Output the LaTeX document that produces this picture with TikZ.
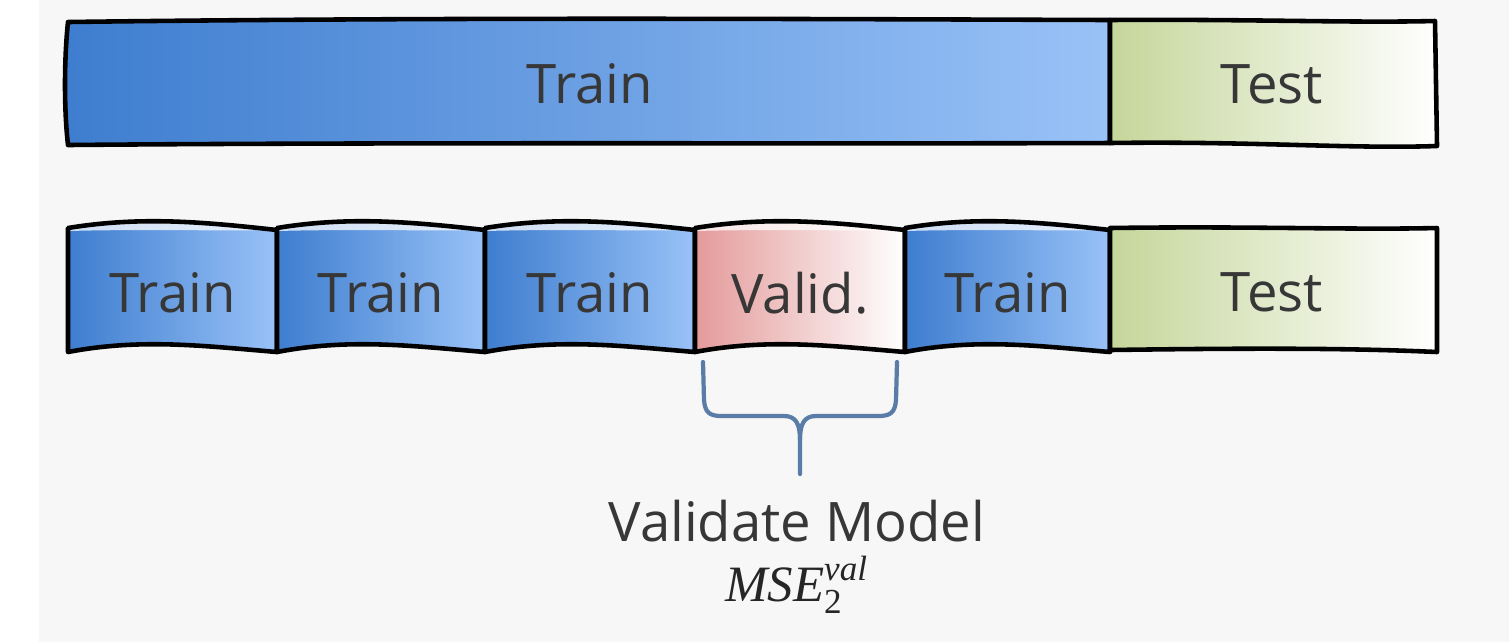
\documentclass[tikz,border=0pt]{standalone}
\usepackage{fontspec}
\setmainfont{Open Sans}
\newfontfamily\serifit{Liberation Serif}
\usetikzlibrary{calc}
\definecolor{bgGray}{RGB}{247,247,247}
\definecolor{trainDark}{RGB}{62,125,207}
\definecolor{trainLight}{RGB}{153,194,247}
\definecolor{testGreen}{RGB}{197,214,154}
\definecolor{validPink}{RGB}{228,154,154}
\definecolor{inkText}{RGB}{55,55,55}
\definecolor{braceBlue}{RGB}{90,125,168}
\tikzset{
    fold/.style 2 args={left color=#1, right color=#2},
    edge/.style={draw=black, line width=1.3pt, line join=round},
    gloss/.style={fill=white, opacity=0.75},
    lbl/.style={text=inkText, font=\fontsize{15.5}{18}\selectfont, inner sep=0pt},
    formula/.style={text=black!85, font=\fontsize{14.5}{17}\selectfont\serifit, inner sep=0pt}
}
\tikzset{brace/.style={draw=braceBlue, line width=1.2pt, line cap=round}}
\begin{document}
\begin{tikzpicture}[x=0.1mm, y=-0.1mm]
    \useasboundingbox (0,0) rectangle (1509,642);
    \fill[white] (0,0) rectangle (1509,642);
    \fill[bgGray] (39,0) rectangle (1509,642);
    % whole data: train / test
    \path[fold={trainDark}{trainLight}, edge] (68,22) .. controls (450,17) and (800,19) .. (1110,20) -- (1110,143) .. controls (800,144) and (400,142) .. (68,145) .. controls (64,110) and (64,60) .. cycle;
    \path[fold={testGreen}{white}, edge] (1110,20) .. controls (1250,19) and (1350,23) .. (1435,21) -- (1437,146) .. controls (1350,149) and (1250,141) .. (1110,143) -- cycle;
    \node[lbl] (train) at (590,84) {Train};
    \node[lbl] (test) at (1272,84) {Test};
    % k folds
    \foreach \nm/\lab/\xl/\xr/\ca/\cb in {fa/Train/68/277/trainDark/trainLight, fb/Train/277/485/trainDark/trainLight, fc/Train/485/695/trainDark/trainLight, fv/Valid./695/905/validPink/white, fd/Train/905/1110/trainDark/trainLight} {
        \path[fold={\ca}{\cb}] (\xl,228) .. controls ({\xl+0.35*(\xr-\xl)},216) and ({\xl+0.65*(\xr-\xl)},222) .. (\xr,230) -- (\xr,352) .. controls ({\xl+0.65*(\xr-\xl)},346) and ({\xl+0.35*(\xr-\xl)},338) .. (\xl,352) -- cycle;
        \fill[gloss] (\xl,228) .. controls ({\xl+0.35*(\xr-\xl)},216) and ({\xl+0.65*(\xr-\xl)},222) .. (\xr,230) .. controls ({\xl+0.65*(\xr-\xl)},231) and ({\xl+0.35*(\xr-\xl)},229) .. (\xl,231) -- cycle;
        \draw[edge] (\xl,228) .. controls ({\xl+0.35*(\xr-\xl)},216) and ({\xl+0.65*(\xr-\xl)},222) .. (\xr,230) -- (\xr,352) .. controls ({\xl+0.65*(\xr-\xl)},346) and ({\xl+0.35*(\xr-\xl)},338) .. (\xl,352) -- cycle;
        \node[lbl] (\nm) at ({(\xl+\xr)/2},293) {\lab};
    }
    \path[fold={testGreen}{white}, edge] (1110,228) .. controls (1250,226) and (1350,230) .. (1437,228) -- (1437,352) .. controls (1350,348) and (1250,348) .. (1110,350) -- cycle;
    \node[lbl] (ftest) at (1272,292) {Test};
    % brace under the validation fold
    \draw[brace] (703,362) -- (704,400) .. controls (705,413) and (710,416) .. (722,416) -- (784,416) .. controls (796,416) and (800,424) .. (800,440) -- (800,474);
    \draw[brace] (897,362) -- (896,400) .. controls (895,413) and (890,416) .. (878,416) -- (816,416) .. controls (804,416) and (800,424) .. (800,440);
    \node[lbl] (vm) at (797,521) {Validate Model};
    \node[formula] (mse) at (797,585) {$\hbox{\itshape MSE}_{\hbox{\fontsize{10}{12}\selectfont 2}}^{\hbox{\fontsize{10}{12}\selectfont\itshape val}}$};
\end{tikzpicture}
\end{document}
